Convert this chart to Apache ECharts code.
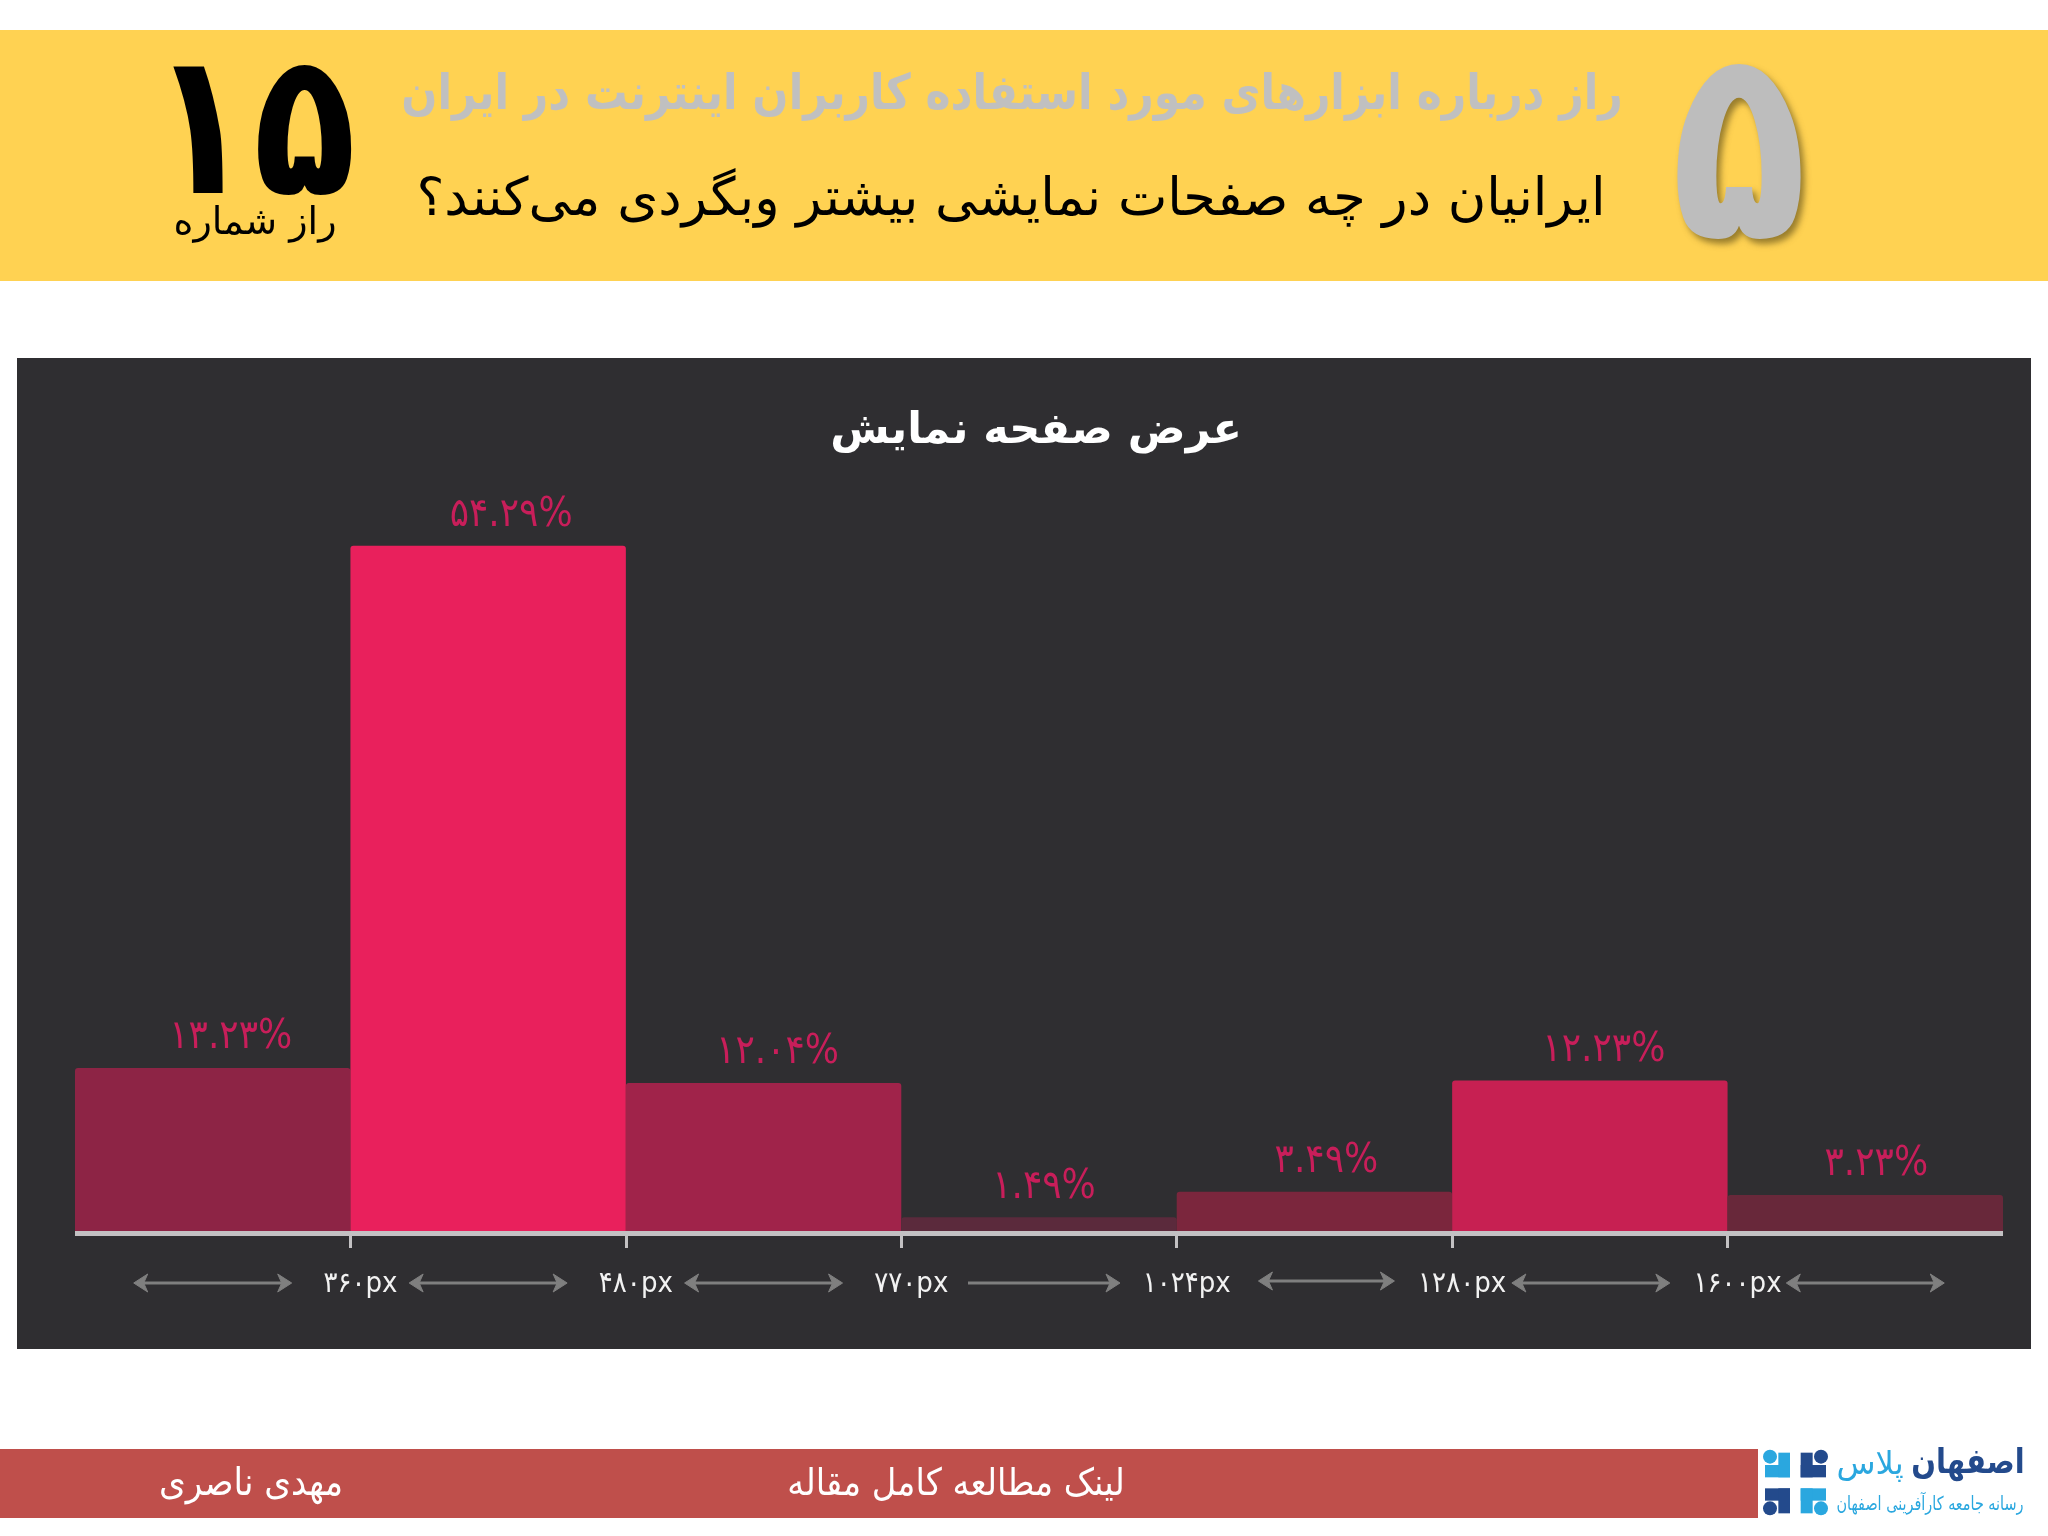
<!DOCTYPE html>
<html>
<head>
<meta charset="utf-8">
<title>عرض صفحه نمایش</title>
<style>
  html, body { margin: 0; padding: 0; background: #fff; }
  #chart { width: 2048px; height: 1536px; }
</style>
<script src="https://cdn.jsdelivr.net/npm/echarts@6/dist/echarts.min.js"></script>
</head>
<body>
<div id="chart"></div>
<script>
// Chart data.
const categories = ['0-360', '360-480', '480-770', '770-1024', '1024-1280', '1280-1600', '1600+'];
const shares = [13.23, 54.29, 12.04, 1.49, 3.49, 12.23, 3.23];
const shareLabels = ['۱۳.۲۳%', '۵۴.۲۹%', '۱۲.۰۴%', '۱.۴۹%', '۳.۴۹%', '۱۲.۲۳%', '۳.۲۳%'];
const tickValues = [1, 2, 3, 4, 5, 6];
const tickLabels = ['۳۶۰px', '۴۸۰px', '۷۷۰px', '۱۰۲۴px', '۱۲۸۰px', '۱۶۰۰px'];

const chartTitle = 'عرض صفحه نمایش';
const bannerTitle = 'راز درباره ابزارهای مورد استفاده کاربران اینترنت در ایران';
const bannerQuestion = 'ایرانیان در چه صفحات نمایشی بیشتر وبگردی می‌کنند؟';

const barColors = ['#8d2445', '#e9205c', '#a0234a', '#5b2a3c', '#7b263d', '#c72052', '#68283a'];
const labelShift = [18, 23, 14, 5, 12, 14, 11];
const arrowShape = [
  { half: 79, dx: 0, dy: 0, left: true },
  { half: 79, dx: 0, dy: 0, left: true },
  { half: 79, dx: 0, dy: 0, left: true },
  { half: 78, dx: 3, dy: 0, left: false },
  { half: 68, dx: 12, dy: -2, left: true },
  { half: 79, dx: 1, dy: 0, left: true },
  { half: 79, dx: 0, dy: 0, left: true }
];

const FONT = '"DejaVu Sans", sans-serif';
const NARROW = '"DejaVu Sans Condensed", "DejaVu Sans", sans-serif';

function rect(x, y, width, height, fill, z) {
  return { type: 'rect', z: z, shape: { x, y, width, height }, style: { fill } };
}

function text(str, x, y, size, fill, opts) {
  opts = opts || {};
  return {
    type: 'text', z: 5, x, y,
    scaleX: opts.sx || 1, scaleY: opts.sy || 1,
    style: {
      text: str, x: 0, y: 0, fill,
      align: 'center', verticalAlign: 'middle',
      font: (opts.weight || 'normal') + ' ' + size + 'px ' + (opts.font || FONT),
      textShadowColor: opts.shadow, textShadowBlur: opts.shadow ? 6 : 0,
      textShadowOffsetX: opts.shadow ? 4 : 0, textShadowOffsetY: opts.shadow ? 5 : 0
    }
  };
}

// Logo blocks, given in 3x logo-crop units.
function logoBlock(a, b, c, d, fill) {
  return rect(1740 + a / 3, 1440 + b / 3, (c - a) / 3, (d - b) / 3, fill, 5);
}
function logoDot(cx, cy, fill) {
  return { type: 'circle', z: 5, shape: { cx: 1740 + cx / 3, cy: 1440 + cy / 3, r: 7 }, style: { fill } };
}

const LIGHT = '#2aa7df';
const DARK = '#234a8c';

const decorations = [
  rect(0, 30, 2048, 251, '#ffd252', -10),
  rect(17, 358, 2014, 991, '#2f2e31', -10),
  rect(0, 1449, 1758, 69, '#bf4f4b', -10),

  text('۱۵', 253, 141, 178, '#000', { weight: 'bold', sx: 0.95, sy: 1.12 }),
  text('راز شماره', 255, 224, 38, '#000'),
  text(bannerTitle, 1012, 96, 42.5, '#c0c0c0', { weight: 'bold', sy: 1.15 }),
  text(bannerQuestion, 1011, 201, 52.5, '#000'),
  text('۵', 1739, 167, 224, '#bdbdbd', { weight: 'bold', sx: 1, sy: 1.2, shadow: 'rgba(110,90,30,0.7)' }),

  text('مهدی ناصری', 251, 1485, 38, '#fff', { font: NARROW }),
  text('لینک مطالعه کامل مقاله', 956, 1485, 37.5, '#fff', { font: NARROW }),

  logoBlock(75, 75, 150, 112, LIGHT), logoBlock(115, 38, 150, 112, LIGHT), logoDot(90, 50, LIGHT),
  logoBlock(182, 38, 218, 112, DARK), logoBlock(182, 75, 258, 112, DARK), logoDot(243, 50, DARK),
  logoBlock(75, 145, 150, 182, DARK), logoBlock(115, 145, 150, 220, DARK), logoDot(90, 205, DARK),
  logoBlock(182, 145, 258, 182, LIGHT), logoBlock(182, 145, 218, 220, LIGHT), logoDot(243, 205, LIGHT),
  text('اصفهان', 1968, 1464, 29, DARK, { weight: 'bold', sy: 1.2 }),
  text('پلاس', 1870, 1466, 32, LIGHT),
  text('رسانه جامعه کارآفرینی اصفهان', 1930, 1505, 16, LIGHT, { font: NARROW, sy: 1.2 })
];

function renderArrow(params, api) {
  const i = api.value(0);
  const s = arrowShape[i];
  const origin = api.coord([i, 0.25]);
  const cx = origin[0] + s.dx;
  const cy = origin[1] + 50 + s.dy;
  const x1 = cx - s.half;
  const x2 = cx + s.half;
  const style = { fill: '#7f7f7f', stroke: '#7f7f7f' };
  const children = [
    { type: 'line', shape: { x1: x1 + 4, y1: cy, x2: x2 - 4, y2: cy }, style: { stroke: '#7f7f7f', lineWidth: 3 } },
    { type: 'polygon', shape: { points: [[x2, cy], [x2 - 14, cy - 9], [x2 - 10, cy], [x2 - 14, cy + 9]] }, style }
  ];
  if (s.left) {
    children.push({ type: 'polygon', shape: { points: [[x1, cy], [x1 + 14, cy - 9], [x1 + 10, cy], [x1 + 14, cy + 9]] }, style });
  }
  return { type: 'group', children };
}

const chart = echarts.init(document.getElementById('chart'), null, { renderer: 'canvas' });

chart.setOption({
  animation: false,
  backgroundColor: '#fff',
  title: {
    text: chartTitle,
    left: 1031,
    top: 405,
    textAlign: 'center',
    textStyle: { color: '#fff', fontFamily: FONT, fontWeight: 'bold', fontSize: 43 }
  },
  graphic: decorations,
  grid: { left: 75, right: 45, top: 473, bottom: 303 },
  xAxis: [
    {
      type: 'category',
      data: categories,
      z: 5,
      axisLine: { lineStyle: { color: '#c3c1c3', width: 5, cap: 'butt' } },
      axisTick: { show: false },
      axisLabel: { show: false }
    },
    {
      type: 'value',
      min: 0,
      max: 7,
      interval: 1,
      position: 'bottom',
      splitLine: { show: false },
      axisLine: { show: false },
      axisTick: { show: true, customValues: tickValues, length: 15, lineStyle: { color: '#c3c1c3', width: 3 } },
      axisLabel: {
        show: true,
        customValues: tickValues,
        margin: 37,
        padding: [0, 0, 0, 20],
        color: '#f2f2f2',
        fontFamily: NARROW,
        fontSize: 29,
        formatter: (v) => tickLabels[v - 1]
      }
    }
  ],
  yAxis: { type: 'value', min: 0.25, max: 60, show: false },
  series: [
    {
      type: 'bar',
      xAxisIndex: 0,
      barWidth: '100%',
      data: shares.map((v, i) => ({
        value: v,
        itemStyle: { color: barColors[i], borderRadius: [3, 3, 0, 0] },
        label: { offset: [labelShift[i], 0] }
      })),
      label: {
        show: true,
        position: 'top',
        distance: 10,
        color: '#c81e5a',
        fontFamily: NARROW,
        fontSize: 40,
        formatter: (p) => shareLabels[p.dataIndex]
      }
    },
    {
      type: 'custom',
      xAxisIndex: 0,
      silent: true,
      data: categories.map((c, i) => [i, 0.25]),
      renderItem: renderArrow
    }
  ]
});
</script>
</body>
</html>
